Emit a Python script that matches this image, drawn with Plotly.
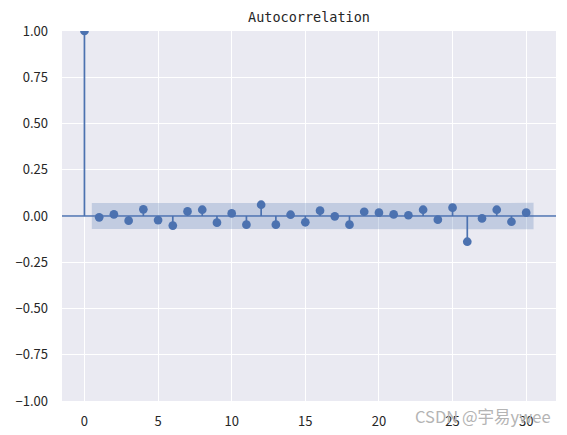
import plotly.graph_objects as go

# autocorrelation values, lags 0..30
lags = list(range(31))
acf = [1.0, -0.007, 0.009, -0.025, 0.036, -0.022, -0.052, 0.025, 0.034, -0.036,
       0.014, -0.047, 0.061, -0.047, 0.007, -0.034, 0.029, -0.002, -0.047, 0.023,
       0.018, 0.009, 0.004, 0.034, -0.020, 0.045, -0.139, -0.013, 0.034, -0.031,
       0.018]
# half-width of the confidence band for lags 1..30
ci = [0.070] * 25 + [0.071] * 5

blue = '#4C72B0'

# stems built from the acf list
sx, sy = [], []
for l, v in zip(lags, acf):
    sx += [l, l, None]
    sy += [0, v, None]

# band x: first and last lag pushed out by half a step, like statsmodels
bx = [float(l) for l in lags[1:]]
bx[0] -= 0.5
bx[-1] += 0.5

fig = go.Figure()
fig.add_trace(go.Scatter(x=bx, y=[-c for c in ci], mode='lines',
                         line=dict(width=0), hoverinfo='skip'))
fig.add_trace(go.Scatter(x=bx, y=ci, mode='lines', line=dict(width=0),
                         fill='tonexty', fillcolor='rgba(76,114,176,0.25)',
                         hoverinfo='skip'))
fig.add_hline(y=0, line=dict(color=blue, width=1.7))
fig.add_trace(go.Scatter(x=sx, y=sy, mode='lines', line=dict(color=blue, width=1.7)))
fig.add_trace(go.Scatter(x=lags, y=acf, mode='markers',
                         marker=dict(color=blue, size=8.7)))

# page body adds 8px, so the figure sits 8px in from the top-left
fig.update_layout(
    width=559, height=427, showlegend=False,
    margin=dict(l=54, r=11, t=23, b=34),
    paper_bgcolor='white', plot_bgcolor='#EAEAF2',
    font=dict(family='Noto Sans CJK SC', size=13, color='#262626'),
    title=dict(text='Autocorrelation', x=0.5, xref='paper', xanchor='center',
               y=1, yref='container', yanchor='top', pad=dict(t=5),
               font=dict(family='DejaVu Sans Mono', size=13.5, color='#262626')),
)
fig.update_xaxes(range=[-1.525, 32.025], tickvals=[0, 5, 10, 15, 20, 25, 30],
                 showgrid=True, gridcolor='white', gridwidth=1.3, zeroline=False,
                 showline=False, ticks='', ticklabelstandoff=11, automargin=False)
fig.update_yaxes(range=[-1, 1], tickvals=[-1, -0.75, -0.5, -0.25, 0, 0.25, 0.5, 0.75, 1],
                 tickformat='.2f', showgrid=True, gridcolor='white', gridwidth=1.3,
                 zeroline=False, showline=False, ticks='', ticklabelstandoff=13,
                 automargin=False)

fig.add_annotation(text='CSDN @宇易ywee', xref='paper', yref='paper',
                   x=0.993, y=-0.04, xanchor='right', yanchor='middle', showarrow=False,
                   font=dict(family='Noto Sans CJK SC', size=16.5, color='#b4b4b4'))

fig.write_html("out.html")
